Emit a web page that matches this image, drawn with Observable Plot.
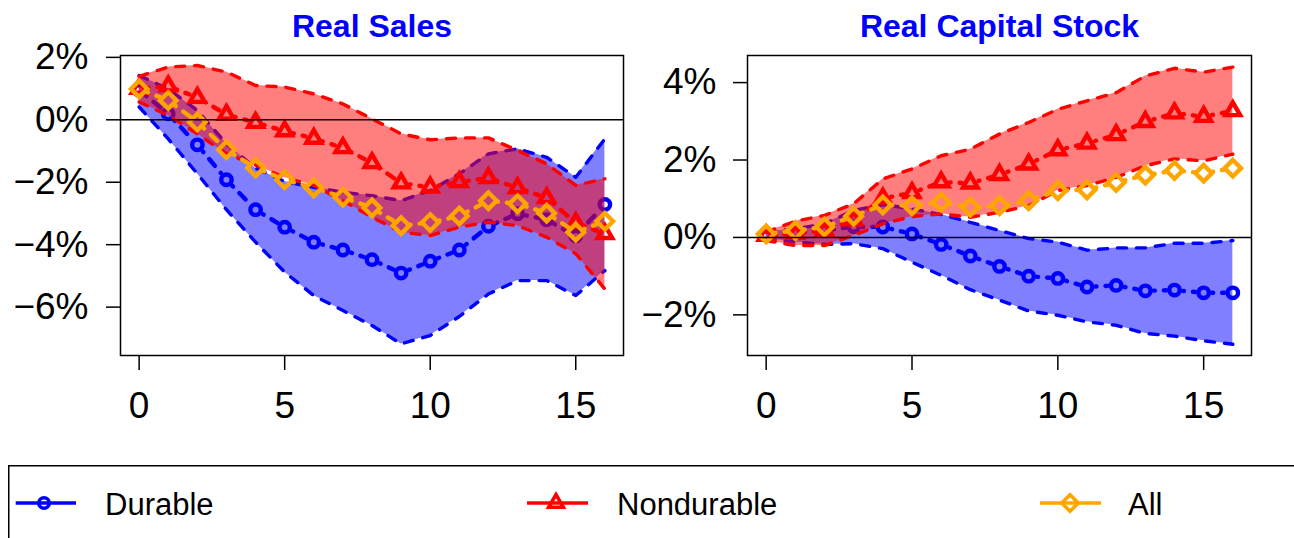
<!DOCTYPE html>
<html>
<head>
<meta charset="utf-8">
<script src="https://cdn.jsdelivr.net/npm/d3@7"></script>
<script src="https://cdn.jsdelivr.net/npm/@observablehq/plot@0.6"></script>
<style>
  body { margin: 0; background: #fff; font-family: "Liberation Sans", Arial, sans-serif; }
  #wrap { position: relative; width: 1294px; height: 538px; overflow: hidden; background: #fff; }
  .panel { position: absolute; top: 0; }
  .panel svg { overflow: visible; }
  #legend { position: absolute; left: 0; top: 460px; }
</style>
</head>
<body>
<div id="wrap">
  <div class="panel" id="left" style="left:0px"></div>
  <div class="panel" id="right" style="left:620px"></div>
  <svg id="legend" width="1294" height="78"></svg>
</div>
<script>
// ---------- data (percent) ----------
const steps = [0,1,2,3,4,5,6,7,8,9,10,11,12,13,14,15,16];

const salesTitle = "Real Sales";
const salesDur   = [0.95, 0.19, -0.80, -1.92, -2.88, -3.44, -3.92, -4.17, -4.48, -4.91, -4.53, -4.17, -3.41, -3.01, -3.20, -3.72, -2.71];
const salesDurLo = [0.41, -0.61, -1.73, -2.88, -3.92, -4.88, -5.63, -6.11, -6.59, -7.18, -6.91, -6.30, -5.58, -5.15, -5.15, -5.63, -4.83];
const salesDurHi = [1.42, 0.99, 0.30, -0.77, -1.55, -1.98, -2.16, -2.32, -2.43, -2.59, -2.26, -1.73, -1.09, -0.93, -1.20, -1.84, -0.61];
const salesNon   = [1.00, 1.08, 0.71, 0.17, -0.09, -0.36, -0.60, -0.90, -1.38, -2.03, -2.16, -1.99, -1.86, -2.18, -2.50, -3.30, -3.65];
const salesNonLo = [0.57, 0.14, -0.45, -1.09, -1.45, -1.85, -2.10, -2.59, -3.12, -3.60, -3.71, -3.44, -3.28, -3.39, -3.76, -4.29, -5.42];
const salesNonHi = [1.39, 1.69, 1.74, 1.53, 1.10, 1.05, 0.83, 0.51, 0.03, -0.45, -0.64, -0.58, -0.58, -0.98, -1.41, -2.10, -1.89];
const salesAll   = [0.99, 0.62, -0.07, -0.96, -1.54, -1.92, -2.18, -2.48, -2.82, -3.39, -3.29, -3.08, -2.59, -2.69, -2.99, -3.60, -3.25];
const salesYDomain = [-7.55, 2.06];
const salesYTicks  = [-6, -4, -2, 0, 2];

const capTitle = "Real Capital Stock";
const capDur   = [0.09, 0.15, 0.18, 0.28, 0.27, 0.09, -0.18, -0.48, -0.75, -1.00, -1.06, -1.28, -1.24, -1.38, -1.36, -1.43, -1.43];
const capDurLo = [-0.03, -0.12, -0.18, -0.16, -0.29, -0.64, -0.98, -1.35, -1.62, -1.90, -2.01, -2.18, -2.27, -2.48, -2.55, -2.67, -2.76];
const capDurHi = [0.14, 0.22, 0.35, 0.70, 0.85, 0.74, 0.59, 0.39, 0.18, -0.03, -0.12, -0.33, -0.27, -0.27, -0.15, -0.15, -0.08];
const capNon   = [0.05, 0.10, 0.18, 0.45, 1.01, 1.15, 1.43, 1.40, 1.62, 1.89, 2.26, 2.43, 2.65, 2.99, 3.21, 3.12, 3.27];
const capNonLo = [-0.08, -0.21, -0.21, 0.05, 0.35, 0.54, 0.61, 0.52, 0.65, 0.82, 1.21, 1.34, 1.55, 1.85, 2.03, 1.98, 2.15];
const capNonHi = [0.14, 0.42, 0.57, 0.87, 1.51, 1.77, 2.11, 2.28, 2.67, 2.97, 3.31, 3.53, 3.74, 4.17, 4.37, 4.27, 4.40];
const capAll   = [0.09, 0.18, 0.27, 0.55, 0.84, 0.82, 0.91, 0.78, 0.82, 0.95, 1.21, 1.23, 1.42, 1.61, 1.73, 1.66, 1.79];
const capYDomain = [-3.05, 4.70];
const capYTicks  = [-2, 0, 2, 4];

const xTicks = [0, 5, 10, 15];
const seriesNames  = ["Durable", "Nondurable", "All"];
const seriesColors = ["#0000ff", "#ff0000", "#ffa500"];
const seriesSymbols = ["circle", "triangle2", "diamond2"];
const seriesR = [5.2, 7.0, 7.4];

// ---------- helpers ----------
const FONT = "'Liberation Sans', Arial, Helvetica, sans-serif";
const LW = 4.4;      // series line / marker stroke
const BW = 3.4;      // band edge stroke
const GAP = 8.5;
const fmtPct = d => (d < 0 ? "\u2212" : "") + Math.abs(d) + "%";

function bandRows(lo, hi) { return steps.map((s, i) => ({step: s, lo: lo[i], hi: hi[i]})); }
function ptRows(v) { return steps.map((s, i) => ({step: s, v: v[i]})); }
function segRows(v) { return steps.slice(1).map((s, i) => ({x1: steps[i], y1: v[i], x2: s, y2: v[i + 1]})); }

function gapRender(index, scales, values, dimensions, context, next) {
  if (typeof next !== "function") return null;
  const X1 = values.x1, Y1 = values.y1, X2 = values.x2, Y2 = values.y2;
  const nx1 = Array.from(X1), ny1 = Array.from(Y1), nx2 = Array.from(X2), ny2 = Array.from(Y2);
  for (const i of index) {
    const dx = X2[i] - X1[i], dy = Y2[i] - Y1[i];
    const L = Math.hypot(dx, dy);
    if (L <= 2 * GAP) { nx1[i] = nx2[i] = (X1[i] + X2[i]) / 2; ny1[i] = ny2[i] = (Y1[i] + Y2[i]) / 2; continue; }
    const ux = dx / L, uy = dy / L;
    nx1[i] = X1[i] + ux * GAP; ny1[i] = Y1[i] + uy * GAP;
    nx2[i] = X2[i] - ux * GAP; ny2[i] = Y2[i] - uy * GAP;
  }
  return next(index, scales, {...values, x1: nx1, y1: ny1, x2: nx2, y2: ny2}, dimensions, context);
}

function seriesMarks(v, k) {
  return [
    Plot.link(segRows(v), {x1: "x1", y1: "y1", x2: "x2", y2: "y2", stroke: seriesColors[k], strokeWidth: LW,
      strokeDasharray: "1,9,9,9", strokeLinecap: "round", render: gapRender}),
    Plot.dot(ptRows(v), {x: "step", y: "v", symbol: seriesSymbols[k], r: seriesR[k], stroke: seriesColors[k],
      strokeWidth: LW, strokeLinejoin: "miter", fill: "none"})
  ];
}

function bandMarks(lo, hi, color) {
  const rows = bandRows(lo, hi);
  return [
    Plot.areaY(rows, {x: "step", y1: "lo", y2: "hi", fill: color, fillOpacity: 0.5}),
    Plot.lineY(rows, {x: "step", y: "lo", stroke: color, strokeWidth: BW, strokeDasharray: "9,10", strokeLinecap: "round"}),
    Plot.lineY(rows, {x: "step", y: "hi", stroke: color, strokeWidth: BW, strokeDasharray: "9,10", strokeLinecap: "round"})
  ];
}

function panel(cfg) {
  return Plot.plot({
    width: cfg.width, height: 440,
    marginTop: 55, marginBottom: 85, marginLeft: cfg.marginLeft, marginRight: cfg.marginRight,
    x: {domain: [-0.64, 16.64]},
    y: {domain: cfg.yDomain},
    style: {fontFamily: FONT, fontSize: "37px", background: "transparent", color: "black", overflow: "visible"},
    marks: [
      ...bandMarks(cfg.durLo, cfg.durHi, "#0000ff"),
      ...seriesMarks(cfg.dur, 0),
      ...bandMarks(cfg.nonLo, cfg.nonHi, "#ff0000"),
      ...seriesMarks(cfg.non, 1),
      ...seriesMarks(cfg.all, 2),
      Plot.ruleY([0], {stroke: "black", strokeWidth: 1.5}),
      Plot.frame({stroke: "black", strokeWidth: 1.5}),
      Plot.axisX({ticks: xTicks, tickSize: 15, tickPadding: 21, label: null, fontSize: 37, strokeWidth: 1.5, tickFormat: d => String(d)}),
      Plot.axisY({ticks: cfg.yTicks, tickSize: 14, tickPadding: cfg.yPad, label: null, fontSize: 37, strokeWidth: 1.5, tickFormat: fmtPct}),
      Plot.text([cfg.title], {frameAnchor: "top", dy: -29, text: d => d, fill: "#0000ff", fontWeight: "bold", fontSize: 32, lineAnchor: "middle"})
    ]
  });
}

document.getElementById("left").appendChild(panel({
  title: salesTitle, yDomain: salesYDomain, yTicks: salesYTicks, width: 647, marginLeft: 120, marginRight: 24, yPad: 18,
  dur: salesDur, durLo: salesDurLo, durHi: salesDurHi,
  non: salesNon, nonLo: salesNonLo, nonHi: salesNonHi, all: salesAll
}));
document.getElementById("right").appendChild(panel({
  title: capTitle, yDomain: capYDomain, yTicks: capYTicks, width: 674, marginLeft: 127, marginRight: 43, yPad: 17,
  dur: capDur, durLo: capDurLo, durHi: capDurHi,
  non: capNon, nonLo: capNonLo, nonHi: capNonHi, all: capAll
}));

// ---------- legend ----------
const leg = d3.select("#legend");
leg.append("rect").attr("x", 8.75).attr("y", 5.75).attr("width", 1400).attr("height", 200)
  .attr("fill", "none").attr("stroke", "black").attr("stroke-width", 1.5);
const legX = [[15.7, 76, 44, 105], [527, 588, 556, 617], [1040, 1101, 1070, 1128]];
const symMap = {circle: d3.symbolCircle, triangle2: d3.symbolTriangle2, diamond2: d3.symbolDiamond2};
const legR = [5.2, 7.0, 7.4];
seriesNames.forEach((name, k) => {
  const [a, b, c, t] = legX[k];
  const g = leg.append("g");
  g.append("line").attr("x1", a).attr("x2", b).attr("y1", 43).attr("y2", 43)
    .attr("stroke", seriesColors[k]).attr("stroke-width", 3.6);
  g.append("path").attr("transform", `translate(${c},43)`)
    .attr("d", d3.symbol().type(symMap[seriesSymbols[k]]).size(Math.PI * legR[k] * legR[k])())
    .attr("fill", "none").attr("stroke", seriesColors[k]).attr("stroke-width", 3.6);
  g.append("text").attr("x", t).attr("y", 55).attr("font-family", FONT).attr("font-size", 31)
    .attr("fill", "black").text(name);
});
</script>
</body>
</html>
